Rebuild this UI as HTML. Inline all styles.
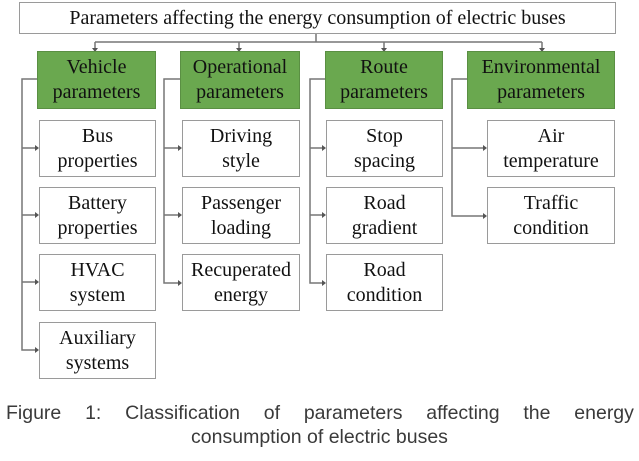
<!DOCTYPE html>
<html><head><style>
body{margin:0;width:639px;height:461px;background:#fff;overflow:hidden;position:relative;font-family:"Liberation Serif",serif;}
.b{position:absolute;box-sizing:border-box;border:1.5px solid #9a9a9a;background:#fff;display:flex;align-items:center;justify-content:center;text-align:center;font-size:20px;line-height:25px;color:#111;}
.g{background:#6aa84f;border-color:#5a8f43;}
.cap{position:absolute;font-family:"Liberation Sans",sans-serif;font-size:19.5px;color:#3a3a3a;width:639px;}
</style></head><body>
<svg width="639" height="461" style="position:absolute;left:0;top:0">
<g stroke="#777" stroke-width="1.5" fill="none">
<path d="M316 33V42M95 42H542M95 42V49M239 42V49M384 42V49M542 42V49"/>
<path d="M37 79H22V350H37M22 148H37M22 215H37M22 282H37"/>
<path d="M180 79H164V283H180M164 148H180M164 215H180"/>
<path d="M325 79H310V283H324M310 148H324M310 215H324"/>
<path d="M467 79H452V216H485M452 148H485"/>
</g>
<g fill="#555">
<path d="M92 48h6l-3 4z M236 48h6l-3 4z M381 48h6l-3 4z M539 48h6l-3 4z"/>
<path d="M35 145v6l4-3z M35 212v6l4-3z M35 279v6l4-3z M35 347v6l4-3z"/>
<path d="M178 145v6l4-3z M178 212v6l4-3z M178 280v6l4-3z"/>
<path d="M322 145v6l4-3z M322 212v6l4-3z M322 280v6l4-3z"/>
<path d="M483 145v6l4-3z M483 213v6l4-3z"/>
</g>
</svg>
<div class="b" style="left:19px;top:2px;width:597px;height:32px;font-size:20px">Parameters affecting the energy consumption of electric buses</div>
<div class="b g" style="left:37px;top:51px;width:119px;height:58px">Vehicle<br>parameters</div>
<div class="b g" style="left:180px;top:51px;width:120px;height:58px">Operational<br>parameters</div>
<div class="b g" style="left:325px;top:51px;width:118px;height:58px">Route<br>parameters</div>
<div class="b g" style="left:467px;top:51px;width:148px;height:58px">Environmental<br>parameters</div>
<div class="b" style="left:39px;top:120px;width:117px;height:57px">Bus<br>properties</div>
<div class="b" style="left:39px;top:187px;width:117px;height:57px">Battery<br>properties</div>
<div class="b" style="left:39px;top:254px;width:117px;height:57px">HVAC<br>system</div>
<div class="b" style="left:39px;top:322px;width:117px;height:57px">Auxiliary<br>systems</div>
<div class="b" style="left:182px;top:120px;width:118px;height:57px">Driving<br>style</div>
<div class="b" style="left:182px;top:187px;width:118px;height:57px">Passenger<br>loading</div>
<div class="b" style="left:182px;top:254px;width:118px;height:57px">Recuperated<br>energy</div>
<div class="b" style="left:326px;top:120px;width:117px;height:57px">Stop<br>spacing</div>
<div class="b" style="left:326px;top:187px;width:117px;height:57px">Road<br>gradient</div>
<div class="b" style="left:326px;top:254px;width:117px;height:57px">Road<br>condition</div>
<div class="b" style="left:487px;top:120px;width:128px;height:57px">Air<br>temperature</div>
<div class="b" style="left:487px;top:187px;width:128px;height:57px">Traffic<br>condition</div>
<div class="cap" style="left:6px;top:402px;width:628px;display:flex;justify-content:space-between"><span>Figure</span><span>1:</span><span>Classification</span><span>of</span><span>parameters</span><span>affecting</span><span>the</span><span>energy</span></div>
<div class="cap" style="left:0;top:426px;text-align:center">consumption of electric buses</div>
</body></html>
